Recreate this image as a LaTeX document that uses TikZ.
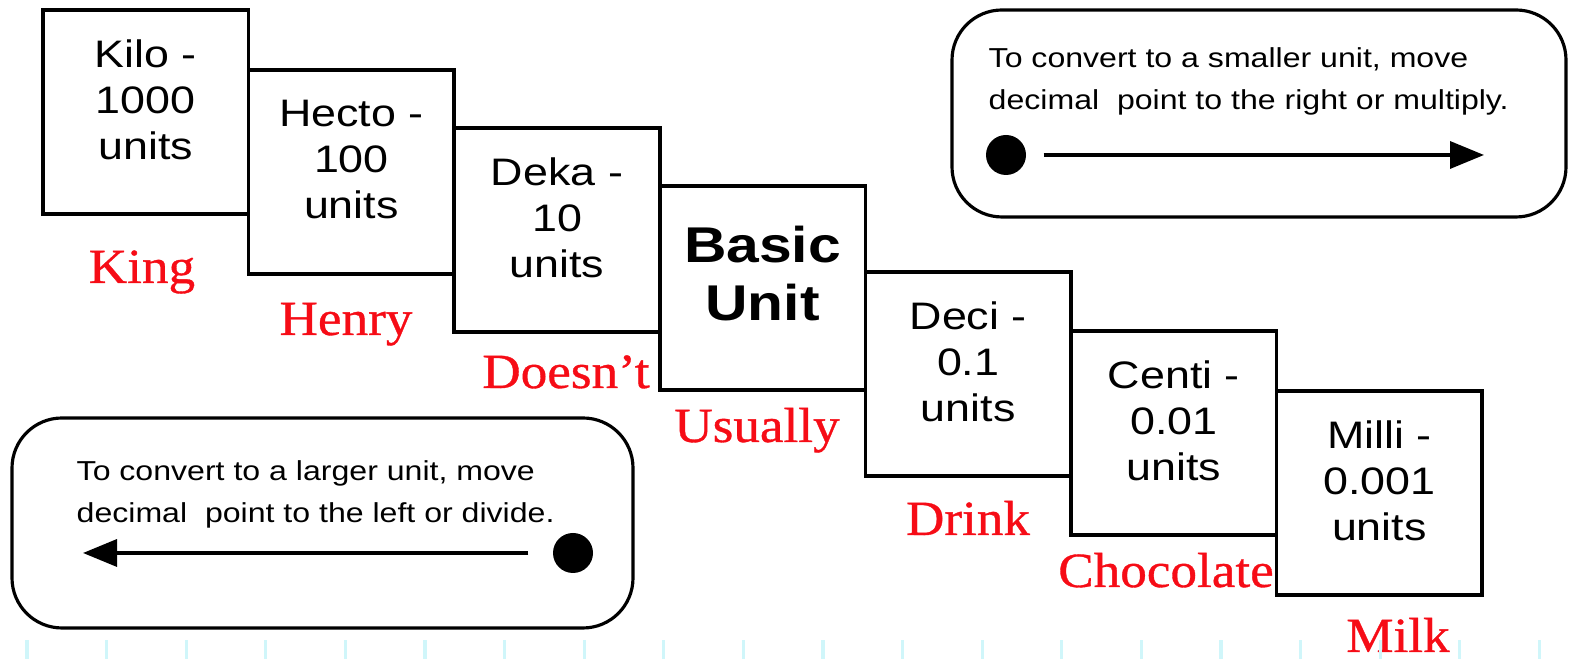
\documentclass[tikz,border=0pt]{standalone}
\usepackage{fontspec}
\setsansfont{Liberation Sans}[FakeStretch=1.17]
\newfontfamily\mnemfont{Liberation Serif}[FakeStretch=1.08, FakeBold=0.7]
\usetikzlibrary{arrows.meta}
\definecolor{mnemred}{RGB}{246,12,22}
\definecolor{tickcyan}{RGB}{208,246,250}

\begin{document}
\begin{tikzpicture}[
	unitbox/.style={draw, line width=1pt, minimum width=2.056cm, minimum height=2.04cm, inner sep=0pt,
		align=center, font=\fontsize{10.9}{13.1}\selectfont\sffamily, text depth=7.15pt},
	basebox/.style={unitbox, font=\fontsize{14.3}{16.5}\selectfont\sffamily\bfseries, text depth=8.4pt},
	mnem/.style={anchor=base, inner sep=0pt, text=mnemred, font=\fontsize{14}{16}\selectfont\mnemfont},
	rulebox/.style={draw, line width=0.9pt, rounded corners=0.5cm},
	ruletext/.style={anchor=north west, inner sep=0pt, align=left, font=\fontsize{7.8}{11.8}\selectfont\sffamily},
	bigdot/.style={circle, fill, inner sep=0pt, minimum size=0.4cm},
	convarrow/.style={line width=1pt, -{Triangle[length=0.34cm, width=0.27cm]}}
	]
	\useasboundingbox (0,0) rectangle (15.70,6.59);
	% Staircase of prefixes:
	\node[unitbox] (kilo) at (1.458,5.47) {Kilo -\\1000\\units};
	\node[unitbox] (hecto) at (3.514,4.87) {Hecto -\\100\\units};
	\node[unitbox] (deka) at (5.570,4.29) {Deka -\\10\\units};
	\node[basebox] (basic) at (7.626,3.71) {Basic\\Unit};
	\node[unitbox] (deci) at (9.682,2.85) {Deci -\\0.1\\units};
	\node[unitbox] (centi) at (11.738,2.26) {Centi -\\0.01\\units};
	\node[unitbox] (milli) at (13.794,1.66) {Milli -\\0.001\\units};

	% Mnemonic words:
	\node[mnem] (king) at (1.42,3.76) {King};
	\node[mnem] (henry) at (3.46,3.24) {Henry};
	\node[mnem] (doesnt) at (5.66,2.71) {Doesn’t};
	\node[mnem] (usually) at (7.57,2.17) {Usually};
	\node[mnem] (drink) at (9.68,1.24) {Drink};
	\node[mnem] (choc) at (11.66,0.72) {Chocolate};
	\node[mnem] (milk) at (13.98,0.07) {Milk};

	% Rule to the right:
	\node[rulebox, minimum width=6.14cm, minimum height=2.07cm] (smallerbox) at (12.59,5.455) {};
	\node[ruletext] (smallertext) at (9.88,6.12) {To convert to a smaller unit, move\\decimal\ \ point to the right or multiply.};
	\node[bigdot] (rdot) at (10.06,5.04) {};
	\coordinate (rtip) at (14.84,5.04);
	\draw[convarrow, shorten <=0.17cm] (rdot.east) -- (rtip);

	% Rule to the left:
	\node[rulebox, minimum width=6.21cm, minimum height=2.10cm] (largerbox) at (3.225,1.36) {};
	\node[ruletext] (largertext) at (0.76,1.99) {To convert to a larger unit, move\\decimal\ \ point to the left or divide.};
	\node[bigdot] (ldot) at (5.73,1.06) {};
	\coordinate (ltip) at (0.83,1.06);
	\draw[convarrow, shorten <=0.24cm] (ldot.west) -- (ltip);

	% Faint ticks along the bottom:
	\foreach \k in {0,...,19}
		\draw[tickcyan, line width=0.9pt] ({0.27+0.796*\k},0) -- ++(0,0.19);
\end{tikzpicture}
\end{document}
